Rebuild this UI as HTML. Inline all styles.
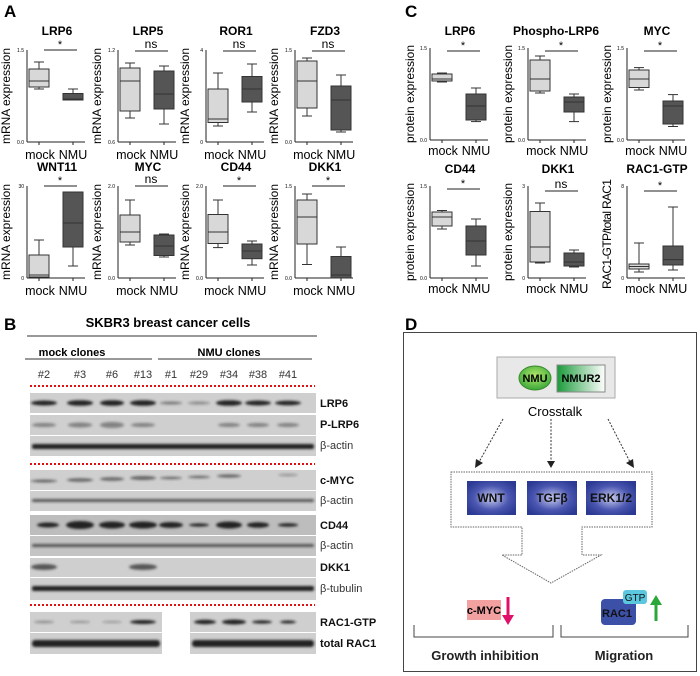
<!DOCTYPE html>
<html><head><meta charset="utf-8"><style>
body{margin:0;background:#fff}
svg{display:block;font-family:"Liberation Sans",Arial,sans-serif}
.ax line,.ax path{stroke:#222;stroke-width:1;fill:none}
.bx line{stroke:#333;stroke-width:1}
.m rect{fill:#d8d8d8;stroke:#333;stroke-width:1}
.n rect{fill:#555;stroke:#333;stroke-width:1}
.t{font-weight:bold;font-size:12px;text-anchor:middle}
.xl{font-size:12.5px;text-anchor:middle}
.yl{font-size:12px;text-anchor:middle}
.tk{font-size:5px;text-anchor:end}
.bl{font-weight:bold;font-size:11px}
.bn{font-size:11px}
</style></head><body>
<svg width="700" height="676" viewBox="0 0 700 676" xmlns="http://www.w3.org/2000/svg">
<defs>
<radialGradient id="bg" cx="50%" cy="50%" r="60%"><stop offset="0" stop-color="#c8ccf0"/><stop offset="0.6" stop-color="#4a56b0"/><stop offset="1" stop-color="#2c3a94"/></radialGradient>
<linearGradient id="gg" x1="0" x2="1"><stop offset="0" stop-color="#1a9a3a"/><stop offset="1" stop-color="#fff"/></linearGradient>
<radialGradient id="ge" cx="50%" cy="40%" r="60%"><stop offset="0" stop-color="#b5e86a"/><stop offset="1" stop-color="#3aa83a"/></radialGradient>
<filter id="bf"><feGaussianBlur stdDeviation="1.2"/></filter>
</defs>
<text x="4" y="17" font-size="17" font-weight="bold">A</text>
<text x="405" y="17" font-size="17" font-weight="bold">C</text>
<text x="4" y="330" font-size="17" font-weight="bold">B</text>
<text x="405" y="330" font-size="17" font-weight="bold">D</text>

<!-- ===== Panel A row 1 ===== -->
<g transform="translate(27,50)">
<g class="ax"><line x1="0" y1="0" x2="0" y2="92"/><line x1="0" y1="92" x2="58" y2="92"/><line x1="12" y1="92" x2="12" y2="95"/><line x1="46" y1="92" x2="46" y2="95"/></g>
<text class="t" x="30" y="-15">LRP6</text><line x1="17" y1="0" x2="50" y2="0" stroke="#222"/><text x="33" y="-2" font-size="11" text-anchor="middle">*</text>
<text class="tk" x="-3" y="2">1.5</text><text class="tk" x="-3" y="94">0.0</text>
<g class="bx m"><line x1="12" y1="12" x2="12" y2="39"/><line x1="7" y1="12" x2="17" y2="12"/><line x1="7" y1="39" x2="17" y2="39"/><rect x="2" y="19" width="20" height="18"/><line x1="2" y1="31" x2="22" y2="31"/></g>
<g class="bx n"><line x1="46" y1="39" x2="46" y2="50"/><line x1="41" y1="39" x2="51" y2="39"/><rect x="36" y="43.5" width="20" height="6.5"/><line x1="36" y1="49" x2="56" y2="49"/></g>
<text class="xl" x="13" y="109">mock</text><text class="xl" x="46" y="109">NMU</text>
<text class="yl" transform="translate(-17,46) rotate(-90)">mRNA expression</text>
</g>
<g transform="translate(118,50)">
<g class="ax"><line x1="0" y1="0" x2="0" y2="92"/><line x1="0" y1="92" x2="58" y2="92"/><line x1="12" y1="92" x2="12" y2="95"/><line x1="46" y1="92" x2="46" y2="95"/></g>
<text class="t" x="30" y="-15">LRP5</text><line x1="17" y1="1" x2="50" y2="1" stroke="#222"/><text x="33" y="-2" font-size="12" text-anchor="middle">ns</text>
<text class="tk" x="-3" y="2">1.2</text><text class="tk" x="-3" y="94">0.6</text>
<g class="bx m"><line x1="12" y1="13" x2="12" y2="68"/><line x1="7" y1="13" x2="17" y2="13"/><line x1="7" y1="68" x2="17" y2="68"/><rect x="2" y="18" width="20" height="43"/><line x1="2" y1="31" x2="22" y2="31"/></g>
<g class="bx n"><line x1="46" y1="16" x2="46" y2="74"/><line x1="41" y1="16" x2="51" y2="16"/><line x1="41" y1="74" x2="51" y2="74"/><rect x="36" y="21" width="20" height="38"/><line x1="36" y1="44" x2="56" y2="44"/></g>
<text class="xl" x="13" y="109">mock</text><text class="xl" x="46" y="109">NMU</text>
<text class="yl" transform="translate(-17,46) rotate(-90)">mRNA expression</text>
</g>
<g transform="translate(206,50)">
<g class="ax"><line x1="0" y1="0" x2="0" y2="92"/><line x1="0" y1="92" x2="58" y2="92"/><line x1="12" y1="92" x2="12" y2="95"/><line x1="46" y1="92" x2="46" y2="95"/></g>
<text class="t" x="30" y="-15">ROR1</text><line x1="17" y1="1" x2="50" y2="1" stroke="#222"/><text x="33" y="-2" font-size="12" text-anchor="middle">ns</text>
<text class="tk" x="-3" y="2">4</text><text class="tk" x="-3" y="94">0</text>
<g class="bx m"><line x1="12" y1="23" x2="12" y2="76"/><line x1="7" y1="23" x2="17" y2="23"/><line x1="7" y1="76" x2="17" y2="76"/><rect x="2" y="39" width="20" height="33.5"/><line x1="2" y1="69" x2="22" y2="69"/></g>
<g class="bx n"><line x1="46" y1="14" x2="46" y2="62"/><line x1="41" y1="14" x2="51" y2="14"/><line x1="41" y1="62" x2="51" y2="62"/><rect x="36" y="26.5" width="20" height="25.5"/><line x1="36" y1="39" x2="56" y2="39"/></g>
<text class="xl" x="13" y="109">mock</text><text class="xl" x="46" y="109">NMU</text>
<text class="yl" transform="translate(-17,46) rotate(-90)">mRNA expression</text>
</g>
<g transform="translate(295,50)">
<g class="ax"><line x1="0" y1="0" x2="0" y2="92"/><line x1="0" y1="92" x2="58" y2="92"/><line x1="12" y1="92" x2="12" y2="95"/><line x1="46" y1="92" x2="46" y2="95"/></g>
<text class="t" x="30" y="-15">FZD3</text><line x1="17" y1="1" x2="50" y2="1" stroke="#222"/><text x="33" y="-2" font-size="12" text-anchor="middle">ns</text>
<text class="tk" x="-3" y="2">1.5</text><text class="tk" x="-3" y="94">0.0</text>
<g class="bx m"><line x1="12" y1="8" x2="12" y2="66"/><line x1="7" y1="8" x2="17" y2="8"/><line x1="7" y1="66" x2="17" y2="66"/><rect x="2" y="11" width="20" height="47"/><line x1="2" y1="31" x2="22" y2="31"/></g>
<g class="bx n"><line x1="46" y1="25" x2="46" y2="82"/><line x1="41" y1="25" x2="51" y2="25"/><line x1="41" y1="82" x2="51" y2="82"/><rect x="36" y="36" width="20" height="44"/><line x1="36" y1="50" x2="56" y2="50"/></g>
<text class="xl" x="13" y="109">mock</text><text class="xl" x="46" y="109">NMU</text>
<text class="yl" transform="translate(-17,46) rotate(-90)">mRNA expression</text>
</g>

<!-- ===== Panel A row 2 ===== -->
<g transform="translate(27,186)">
<g class="ax"><line x1="0" y1="0" x2="0" y2="92"/><line x1="0" y1="92" x2="58" y2="92"/><line x1="12" y1="92" x2="12" y2="95"/><line x1="46" y1="92" x2="46" y2="95"/></g>
<text class="t" x="30" y="-15">WNT11</text><line x1="17" y1="0" x2="50" y2="0" stroke="#222"/><text x="33" y="-2" font-size="11" text-anchor="middle">*</text>
<text class="tk" x="-3" y="2">30</text><text class="tk" x="-3" y="94">0</text>
<g class="bx m"><line x1="12" y1="54" x2="12" y2="92"/><line x1="7" y1="54" x2="17" y2="54"/><rect x="2" y="69" width="20" height="22"/><line x1="2" y1="89" x2="22" y2="89"/></g>
<g class="bx n"><line x1="46" y1="6" x2="46" y2="80"/><line x1="41" y1="80" x2="51" y2="80"/><rect x="36" y="6" width="20" height="55"/><line x1="36" y1="37" x2="56" y2="37"/></g>
<text class="xl" x="13" y="109">mock</text><text class="xl" x="46" y="109">NMU</text>
<text class="yl" transform="translate(-17,46) rotate(-90)">mRNA expression</text>
</g>
<g transform="translate(118,186)">
<g class="ax"><line x1="0" y1="0" x2="0" y2="92"/><line x1="0" y1="92" x2="58" y2="92"/><line x1="12" y1="92" x2="12" y2="95"/><line x1="46" y1="92" x2="46" y2="95"/></g>
<text class="t" x="30" y="-15">MYC</text><line x1="17" y1="0" x2="50" y2="0" stroke="#222"/><text x="33" y="-3" font-size="12" text-anchor="middle">ns</text>
<text class="tk" x="-3" y="2">2.0</text><text class="tk" x="-3" y="94">0.0</text>
<g class="bx m"><line x1="12" y1="14" x2="12" y2="59"/><line x1="7" y1="14" x2="17" y2="14"/><line x1="7" y1="59" x2="17" y2="59"/><rect x="2" y="29" width="20" height="27"/><line x1="2" y1="46" x2="22" y2="46"/></g>
<g class="bx n"><line x1="46" y1="48" x2="46" y2="71"/><line x1="41" y1="48" x2="51" y2="48"/><line x1="41" y1="71" x2="51" y2="71"/><rect x="36" y="49" width="20" height="20.5"/><line x1="36" y1="60" x2="56" y2="60"/></g>
<text class="xl" x="13" y="109">mock</text><text class="xl" x="46" y="109">NMU</text>
<text class="yl" transform="translate(-17,46) rotate(-90)">mRNA expression</text>
</g>
<g transform="translate(206,186)">
<g class="ax"><line x1="0" y1="0" x2="0" y2="92"/><line x1="0" y1="92" x2="58" y2="92"/><line x1="12" y1="92" x2="12" y2="95"/><line x1="46" y1="92" x2="46" y2="95"/></g>
<text class="t" x="30" y="-15">CD44</text><line x1="17" y1="0" x2="50" y2="0" stroke="#222"/><text x="33" y="-2" font-size="11" text-anchor="middle">*</text>
<text class="tk" x="-3" y="2">2.0</text><text class="tk" x="-3" y="94">0.0</text>
<g class="bx m"><line x1="12" y1="14" x2="12" y2="61.6"/><line x1="7" y1="14" x2="17" y2="14"/><line x1="7" y1="61.6" x2="17" y2="61.6"/><rect x="2" y="28.5" width="20" height="29"/><line x1="2" y1="46" x2="22" y2="46"/></g>
<g class="bx n"><line x1="46" y1="55" x2="46" y2="79"/><line x1="41" y1="55" x2="51" y2="55"/><line x1="41" y1="79" x2="51" y2="79"/><rect x="36" y="58" width="20" height="14.7"/><line x1="36" y1="65" x2="56" y2="65"/></g>
<text class="xl" x="13" y="109">mock</text><text class="xl" x="46" y="109">NMU</text>
<text class="yl" transform="translate(-17,46) rotate(-90)">mRNA expression</text>
</g>
<g transform="translate(295,186)">
<g class="ax"><line x1="0" y1="0" x2="0" y2="92"/><line x1="0" y1="92" x2="58" y2="92"/><line x1="12" y1="92" x2="12" y2="95"/><line x1="46" y1="92" x2="46" y2="95"/></g>
<text class="t" x="30" y="-15">DKK1</text><line x1="17" y1="0" x2="50" y2="0" stroke="#222"/><text x="33" y="-2" font-size="11" text-anchor="middle">*</text>
<text class="tk" x="-3" y="2">1.5</text><text class="tk" x="-3" y="94">0.0</text>
<g class="bx m"><line x1="12" y1="8" x2="12" y2="78.5"/><line x1="7" y1="8" x2="17" y2="8"/><line x1="7" y1="78.5" x2="17" y2="78.5"/><rect x="2" y="14" width="20" height="44"/><line x1="2" y1="31" x2="22" y2="31"/></g>
<g class="bx n"><line x1="46" y1="61" x2="46" y2="92"/><line x1="41" y1="61" x2="51" y2="61"/><rect x="36" y="70.5" width="20" height="21.5"/><line x1="36" y1="89" x2="56" y2="89"/></g>
<text class="xl" x="13" y="109">mock</text><text class="xl" x="46" y="109">NMU</text>
<text class="yl" transform="translate(-17,46) rotate(-90)">mRNA expression</text>
</g>

<!-- ===== Panel C row 1 ===== -->
<g transform="translate(430,48)">
<g class="ax"><line x1="0" y1="0" x2="0" y2="92"/><line x1="0" y1="92" x2="58" y2="92"/><line x1="12" y1="92" x2="12" y2="95"/><line x1="46" y1="92" x2="46" y2="95"/></g>
<text class="t" x="30" y="-13">LRP6</text><line x1="17" y1="3" x2="50" y2="3" stroke="#222"/><text x="33" y="1" font-size="11" text-anchor="middle">*</text>
<text class="tk" x="-3" y="2">1.5</text><text class="tk" x="-3" y="94">0.0</text>
<g class="bx m"><line x1="7" y1="25" x2="17" y2="25"/><line x1="7" y1="34" x2="17" y2="34"/><rect x="2" y="26" width="20" height="7"/><line x1="2" y1="31" x2="22" y2="31"/></g>
<g class="bx n"><line x1="46" y1="40" x2="46" y2="73.6"/><line x1="41" y1="40" x2="51" y2="40"/><line x1="41" y1="73.6" x2="51" y2="73.6"/><rect x="36" y="46" width="20" height="26"/><line x1="36" y1="58" x2="56" y2="58"/></g>
<text class="xl" x="13" y="107">mock</text><text class="xl" x="46" y="107">NMU</text>
<text class="yl" transform="translate(-16,46) rotate(-90)">protein expression</text>
</g>
<g transform="translate(528,48)">
<g class="ax"><line x1="0" y1="0" x2="0" y2="92"/><line x1="0" y1="92" x2="58" y2="92"/><line x1="12" y1="92" x2="12" y2="95"/><line x1="46" y1="92" x2="46" y2="95"/></g>
<text class="t" x="28" y="-13">Phospho-LRP6</text><line x1="17" y1="3" x2="50" y2="3" stroke="#222"/><text x="33" y="1" font-size="11" text-anchor="middle">*</text>
<text class="tk" x="-3" y="2">1.5</text><text class="tk" x="-3" y="94">0.0</text>
<g class="bx m"><line x1="12" y1="8" x2="12" y2="45"/><line x1="7" y1="8" x2="17" y2="8"/><line x1="7" y1="45" x2="17" y2="45"/><rect x="2" y="12" width="20" height="31"/><line x1="2" y1="31" x2="22" y2="31"/></g>
<g class="bx n"><line x1="46" y1="46" x2="46" y2="73.6"/><line x1="41" y1="46" x2="51" y2="46"/><line x1="41" y1="73.6" x2="51" y2="73.6"/><rect x="36" y="49" width="20" height="15"/><line x1="36" y1="54" x2="56" y2="54"/></g>
<text class="xl" x="13" y="107">mock</text><text class="xl" x="46" y="107">NMU</text>
<text class="yl" transform="translate(-16,46) rotate(-90)">protein expression</text>
</g>
<g transform="translate(627,48)">
<g class="ax"><line x1="0" y1="0" x2="0" y2="92"/><line x1="0" y1="92" x2="58" y2="92"/><line x1="12" y1="92" x2="12" y2="95"/><line x1="46" y1="92" x2="46" y2="95"/></g>
<text class="t" x="30" y="-13">MYC</text><line x1="17" y1="3" x2="50" y2="3" stroke="#222"/><text x="33" y="1" font-size="11" text-anchor="middle">*</text>
<text class="tk" x="-3" y="2">1.5</text><text class="tk" x="-3" y="94">0.0</text>
<g class="bx m"><line x1="12" y1="19.6" x2="12" y2="42"/><line x1="7" y1="19.6" x2="17" y2="19.6"/><line x1="7" y1="42" x2="17" y2="42"/><rect x="2" y="22" width="20" height="17.5"/><line x1="2" y1="31" x2="22" y2="31"/></g>
<g class="bx n"><line x1="46" y1="46.6" x2="46" y2="78.5"/><line x1="41" y1="46.6" x2="51" y2="46.6"/><line x1="41" y1="78.5" x2="51" y2="78.5"/><rect x="36" y="53" width="20" height="23"/><line x1="36" y1="58" x2="56" y2="58"/></g>
<text class="xl" x="13" y="107">mock</text><text class="xl" x="46" y="107">NMU</text>
<text class="yl" transform="translate(-16,46) rotate(-90)">protein expression</text>
</g>

<!-- ===== Panel C row 2 ===== -->
<g transform="translate(430,186)">
<g class="ax"><line x1="0" y1="0" x2="0" y2="92"/><line x1="0" y1="92" x2="58" y2="92"/><line x1="12" y1="92" x2="12" y2="95"/><line x1="46" y1="92" x2="46" y2="95"/></g>
<text class="t" x="30" y="-13">CD44</text><line x1="17" y1="3" x2="50" y2="3" stroke="#222"/><text x="33" y="1" font-size="11" text-anchor="middle">*</text>
<text class="tk" x="-3" y="2">1.5</text><text class="tk" x="-3" y="94">0.0</text>
<g class="bx m"><line x1="12" y1="24.5" x2="12" y2="43"/><line x1="7" y1="24.5" x2="17" y2="24.5"/><line x1="7" y1="43" x2="17" y2="43"/><rect x="2" y="26" width="20" height="14"/><line x1="2" y1="31" x2="22" y2="31"/></g>
<g class="bx n"><line x1="46" y1="33" x2="46" y2="80"/><line x1="41" y1="33" x2="51" y2="33"/><line x1="41" y1="80" x2="51" y2="80"/><rect x="36" y="40" width="20" height="29"/><line x1="36" y1="55" x2="56" y2="55"/></g>
<text class="xl" x="13" y="107">mock</text><text class="xl" x="46" y="107">NMU</text>
<text class="yl" transform="translate(-16,46) rotate(-90)">protein expression</text>
</g>
<g transform="translate(528,186)">
<g class="ax"><line x1="0" y1="0" x2="0" y2="92"/><line x1="0" y1="92" x2="58" y2="92"/><line x1="12" y1="92" x2="12" y2="95"/><line x1="46" y1="92" x2="46" y2="95"/></g>
<text class="t" x="30" y="-13">DKK1</text><line x1="17" y1="5" x2="50" y2="5" stroke="#222"/><text x="33" y="2" font-size="12" text-anchor="middle">ns</text>
<text class="tk" x="-3" y="2">3</text><text class="tk" x="-3" y="94">0</text>
<g class="bx m"><line x1="12" y1="17" x2="12" y2="77"/><line x1="7" y1="17" x2="17" y2="17"/><line x1="7" y1="77" x2="17" y2="77"/><rect x="2" y="25.5" width="20" height="50.5"/><line x1="2" y1="61" x2="22" y2="61"/></g>
<g class="bx n"><line x1="46" y1="64" x2="46" y2="81"/><line x1="41" y1="64" x2="51" y2="64"/><line x1="41" y1="81" x2="51" y2="81"/><rect x="36" y="67" width="20" height="13"/><line x1="36" y1="76" x2="56" y2="76"/></g>
<text class="xl" x="13" y="107">mock</text><text class="xl" x="46" y="107">NMU</text>
<text class="yl" transform="translate(-16,46) rotate(-90)">protein expression</text>
</g>
<g transform="translate(627,186)">
<g class="ax"><line x1="0" y1="0" x2="0" y2="92"/><line x1="0" y1="92" x2="58" y2="92"/><line x1="12" y1="92" x2="12" y2="95"/><line x1="46" y1="92" x2="46" y2="95"/></g>
<text class="t" x="30" y="-13">RAC1-GTP</text><line x1="17" y1="5" x2="50" y2="5" stroke="#222"/><text x="33" y="3" font-size="11" text-anchor="middle">*</text>
<text class="tk" x="-3" y="2">8</text><text class="tk" x="-3" y="94">0</text>
<g class="bx m"><line x1="12" y1="57" x2="12" y2="86"/><line x1="7" y1="57" x2="17" y2="57"/><line x1="7" y1="86" x2="17" y2="86"/><rect x="2" y="78" width="20" height="5"/><line x1="2" y1="80.5" x2="22" y2="80.5"/></g>
<g class="bx n"><line x1="46" y1="21" x2="46" y2="84"/><line x1="41" y1="21" x2="51" y2="21"/><line x1="41" y1="84" x2="51" y2="84"/><rect x="36" y="60" width="20" height="19"/><line x1="36" y1="73.6" x2="56" y2="73.6"/></g>
<text class="xl" x="13" y="107">mock</text><text class="xl" x="46" y="107">NMU</text>
<text class="yl" transform="translate(-16,48) rotate(-90)" textLength="110">RAC1-GTP/total RAC1</text>
</g>

<!-- ===== Panel B ===== -->
<text x="168" y="327" font-size="13" font-weight="bold" text-anchor="middle">SKBR3 breast cancer cells</text>
<line x1="27" y1="336" x2="317" y2="336" stroke="#333"/>
<text x="72" y="356" font-size="11" font-weight="bold" text-anchor="middle">mock clones</text>
<text x="229" y="356" font-size="11" font-weight="bold" text-anchor="middle">NMU clones</text>
<line x1="25" y1="359" x2="152" y2="359" stroke="#333"/><line x1="158" y1="359" x2="312" y2="359" stroke="#333"/>
<g class="bn" text-anchor="middle" fill="#333">
<text x="44" y="378">#2</text><text x="80" y="378">#3</text><text x="112" y="378">#6</text><text x="143" y="378">#13</text><text x="171" y="378">#1</text><text x="199" y="378">#29</text><text x="229" y="378">#34</text><text x="258" y="378">#38</text><text x="288" y="378">#41</text>
</g>
<g stroke="#e01010" stroke-width="2" stroke-dasharray="2,2"><line x1="30" y1="386" x2="315" y2="386"/><line x1="30" y1="464" x2="315" y2="464"/><line x1="30" y1="605" x2="315" y2="605"/></g>
<g fill="#cfcfcf">
<rect x="30" y="393" width="286" height="20"/><rect x="30" y="415" width="286" height="20"/><rect x="30" y="436" width="286" height="20"/>
<rect x="30" y="470" width="286" height="20"/><rect x="30" y="491" width="286" height="20"/>
<rect x="30" y="515" width="286" height="20" fill="#bdbdbd"/><rect x="30" y="536" width="286" height="20" fill="#c4c4c4"/>
<rect x="30" y="558" width="286" height="19"/><rect x="30" y="578" width="286" height="22"/>
<rect x="30" y="612" width="132" height="20"/><rect x="30" y="633" width="132" height="21"/>
<rect x="190" y="612" width="126" height="20"/><rect x="190" y="633" width="126" height="21"/>
</g>
<g filter="url(#bf)" fill="#222">
<!-- LRP6 -->
<g transform="translate(0,403)"><ellipse cx="44" cy="0" rx="13" ry="2.5"/><ellipse cx="80" cy="0" rx="13" ry="2.8"/><ellipse cx="112" cy="0" rx="12" ry="2.8"/><ellipse cx="143" cy="0" rx="13" ry="2.8"/><ellipse cx="171" cy="0" rx="11" ry="1.5" opacity=".5"/><ellipse cx="199" cy="0" rx="11" ry="1.5" opacity=".4"/><ellipse cx="229" cy="0" rx="13" ry="2.8"/><ellipse cx="258" cy="0" rx="13" ry="2.5"/><ellipse cx="288" cy="0" rx="13" ry="2.3"/></g>
<!-- P-LRP6 -->
<g transform="translate(0,425)" opacity=".45"><ellipse cx="44" cy="0" rx="12" ry="2"/><ellipse cx="80" cy="0" rx="12" ry="2.5"/><ellipse cx="112" cy="0" rx="12" ry="3"/><ellipse cx="143" cy="0" rx="12" ry="2"/><ellipse cx="229" cy="0" rx="11" ry="2"/><ellipse cx="258" cy="0" rx="11" ry="2"/><ellipse cx="288" cy="0" rx="11" ry="2"/></g>
<!-- actin -->
<rect x="32" y="444" width="282" height="5" rx="2"/>
<!-- c-MYC -->
<g transform="translate(0,481)" opacity=".6"><ellipse cx="44" cy="0" rx="13" ry="1.5"/><ellipse cx="80" cy="-1" rx="13" ry="1.8"/><ellipse cx="112" cy="-2" rx="12" ry="1.8"/><ellipse cx="143" cy="-3" rx="13" ry="2"/><ellipse cx="171" cy="-3" rx="11" ry="1.3"/><ellipse cx="199" cy="-4" rx="11" ry="1.3"/><ellipse cx="229" cy="-5" rx="12" ry="1.6"/><ellipse cx="288" cy="-6" rx="10" ry="1.2" opacity=".5"/></g>
<rect x="32" y="499" width="282" height="3" rx="1.5" opacity=".7"/>
<!-- CD44 -->
<g transform="translate(0,525)"><ellipse cx="48" cy="0" rx="11" ry="2.5"/><ellipse cx="80" cy="0" rx="14" ry="4"/><ellipse cx="112" cy="0" rx="13" ry="3.5"/><ellipse cx="143" cy="0" rx="14" ry="3.5"/><ellipse cx="171" cy="0" rx="12" ry="3"/><ellipse cx="199" cy="0" rx="10" ry="1.6"/><ellipse cx="229" cy="0" rx="13" ry="3.5"/><ellipse cx="258" cy="0" rx="11" ry="2.8"/><ellipse cx="288" cy="0" rx="10" ry="1.8"/></g>
<rect x="32" y="544" width="282" height="3" rx="1.5" opacity=".7"/>
<!-- DKK1 -->
<g transform="translate(0,567)" opacity=".7"><ellipse cx="44" cy="0" rx="13" ry="3"/><ellipse cx="143" cy="0" rx="14" ry="3"/></g>
<rect x="32" y="586" width="282" height="5" rx="2"/>
<!-- RAC1-GTP -->
<g transform="translate(0,622)"><ellipse cx="44" cy="0" rx="10" ry="1.3" opacity=".4"/><ellipse cx="80" cy="0" rx="10" ry="1" opacity=".4"/><ellipse cx="112" cy="0" rx="10" ry="1" opacity=".3"/><ellipse cx="143" cy="0" rx="13" ry="2"/><ellipse cx="205" cy="0" rx="11" ry="2.2"/><ellipse cx="234" cy="0" rx="12" ry="2.5"/><ellipse cx="262" cy="0" rx="10" ry="1.6"/><ellipse cx="288" cy="0" rx="8" ry="1.5"/></g>
<rect x="32" y="640" width="128" height="7" rx="3"/><rect x="192" y="640" width="122" height="7" rx="3"/>
</g>
<g fill="#111">
<text class="bl" x="320" y="407">LRP6</text><text class="bl" x="320" y="428">P-LRP6</text><text class="bn" x="320" y="449" fill="#333">β-actin</text>
<text class="bl" x="320" y="484">c-MYC</text><text class="bn" x="320" y="504" fill="#333">β-actin</text>
<text class="bl" x="320" y="529">CD44</text><text class="bn" x="320" y="549" fill="#333">β-actin</text>
<text class="bl" x="320" y="571">DKK1</text><text class="bn" x="320" y="592" fill="#333">β-tubulin</text>
<text class="bl" x="320" y="626">RAC1-GTP</text><text class="bl" x="320" y="647">total RAC1</text>
</g>

<!-- ===== Panel D ===== -->
<rect x="403.5" y="332.5" width="293" height="339" fill="#fff" stroke="#444" stroke-width="1"/>
<rect x="497" y="357" width="118" height="41" fill="#e8e8e8" stroke="#aaa"/>
<ellipse cx="535" cy="378" rx="16" ry="12" fill="url(#ge)" stroke="#3a8a2a"/>
<text x="535" y="382" font-size="11" font-weight="bold" text-anchor="middle">NMU</text>
<rect x="557" y="365" width="48" height="27" fill="url(#gg)" stroke="#888"/>
<text x="581" y="382" font-size="11" font-weight="bold" text-anchor="middle">NMUR2</text>
<text x="555" y="416" font-size="13" text-anchor="middle">Crosstalk</text>
<g stroke="#333" stroke-dasharray="2,1.5" fill="none"><line x1="503" y1="419" x2="479" y2="462"/><line x1="551" y1="419" x2="551" y2="462"/><line x1="608" y1="419" x2="630" y2="462"/></g>
<g fill="#222"><polygon points="475,468 476,459 483,463"/><polygon points="551,468 547,461 555,461"/><polygon points="634,468 626,463 633,459"/></g>
<path d="M451,472 H652 V527 H582 V555 H601 L551,583 L502,555 H522 V527 H451 Z" fill="none" stroke="#666" stroke-dasharray="1.5,1"/>
<rect x="467" y="481" width="49" height="34" fill="url(#bg)"/><rect x="527" y="481" width="50" height="34" fill="url(#bg)"/><rect x="586" y="481" width="50" height="34" fill="url(#bg)"/>
<g font-size="12" font-weight="bold" text-anchor="middle" fill="#111"><text x="491" y="502">WNT</text><text x="552" y="502">TGFβ</text><text x="611" y="502">ERK1/2</text></g>
<rect x="467" y="600" width="34" height="20" fill="#f2a0a0"/>
<text x="484" y="614" font-size="11" font-weight="bold" text-anchor="middle">c-MYC</text>
<line x1="508" y1="597" x2="508" y2="617" stroke="#e0106a" stroke-width="3"/><polygon points="502,615 514,615 508,625" fill="#e0106a"/>
<rect x="601" y="599" width="35" height="26" rx="4" fill="#3c50a8"/>
<text x="617" y="617" font-size="11" font-weight="bold" text-anchor="middle" fill="#111">RAC1</text>
<rect x="623" y="590" width="24" height="14" rx="3" fill="#5cc8e0"/>
<text x="635" y="601" font-size="10" text-anchor="middle" fill="#111">GTP</text>
<line x1="656" y1="621" x2="656" y2="603" stroke="#2aa83a" stroke-width="3"/><polygon points="650,605 662,605 656,595" fill="#2aa83a"/>
<path d="M414,625 V637 H553 V625 M561,625 V637 H688 V625" fill="none" stroke="#444"/>
<g font-size="13" font-weight="bold" text-anchor="middle" fill="#222"><text x="485" y="660">Growth inhibition</text><text x="624" y="660">Migration</text></g>
</svg>
</body></html>
